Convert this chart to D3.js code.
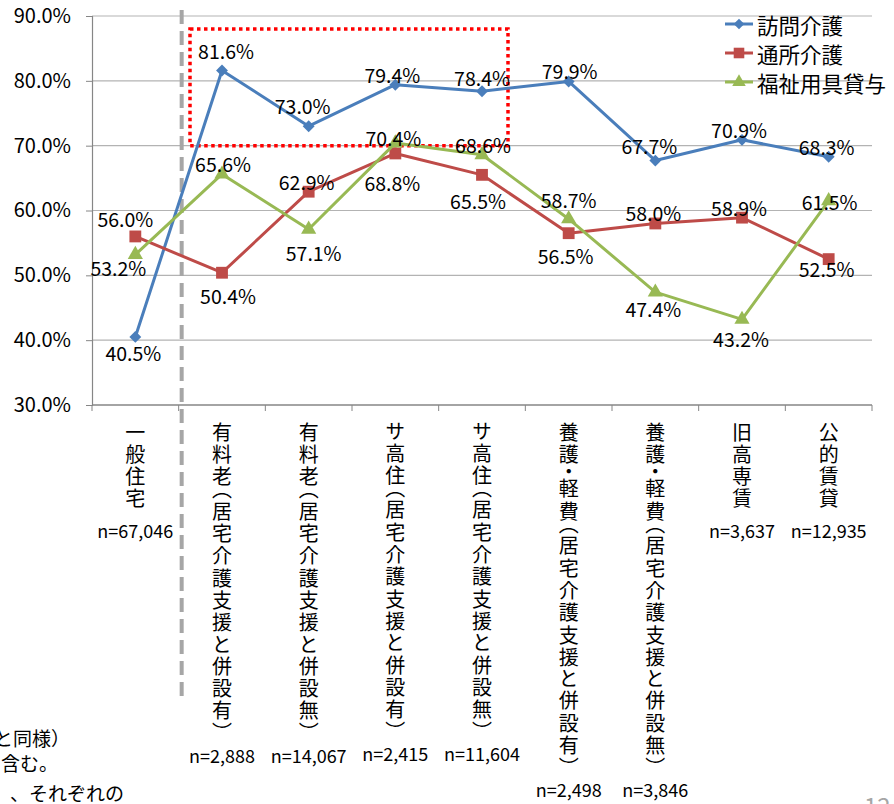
<!DOCTYPE html>
<html>
<head>
<meta charset="utf-8">
<script src="https://cdn.jsdelivr.net/npm/d3@7"></script>
<style>
  body { margin: 0; background: #fff; }
  svg { display: block; font-family: "Noto Sans CJK JP", "Noto Sans", sans-serif; }
  .vlabel { writing-mode: vertical-rl; font-feature-settings: "vpal"; }
</style>
</head>
<body>
<div id="chart"></div>
<script>
//data
const categories = [
  "一般住宅",
  "有料老（居宅介護支援と併設有）",
  "有料老（居宅介護支援と併設無）",
  "サ高住（居宅介護支援と併設有）",
  "サ高住（居宅介護支援と併設無）",
  "養護・軽費（居宅介護支援と併設有）",
  "養護・軽費（居宅介護支援と併設無）",
  "旧高専賃",
  "公的賃貸",
];
const counts = ["n=67,046", "n=2,888", "n=14,067", "n=2,415", "n=11,604", "n=2,498", "n=3,846", "n=3,637", "n=12,935"];
const seriesNames = ["訪問介護", "通所介護", "福祉用具貸与"];
const homeVisit = [40.5, 81.6, 73.0, 79.4, 78.4, 79.9, 67.7, 70.9, 68.3];
const dayService = [56.0, 50.4, 62.9, 68.8, 65.5, 56.5, 58.0, 58.9, 52.5];
const equipment = [53.2, 65.6, 57.1, 70.4, 68.6, 58.7, 47.4, 43.2, 61.5];
const yTicks = [30, 40, 50, 60, 70, 80, 90];
const notes = ["と同様）", "含む。", "、それぞれの"];

//label nudges [dx, dy] for each point
const labelShift = [
  [[-2, 16], [4, -20], [-6, -21], [-3, -10], [0, -14], [1, -11], [-6, -15], [-3, -10], [-2, -10]],
  [[-10, -18], [6, 23], [-2, -10], [-3, 29], [-4, 26], [-3, 22], [-2, -11], [-3, -10], [-2, 9]],
  [[-17, 13], [1, -11], [5, 23], [-2, -6], [1, -10], [0, -19], [-2, 16], [-1, 19], [1, 1]],
];

const main = () => {
  const W = 894, H = 804;
  const margin = { top: 16, right: 22, bottom: 399, left: 92 };
  const svg = d3.select("#chart").append("svg").attr("width", W).attr("height", H);

  const x = d3.scaleBand().domain(categories).range([margin.left, W - margin.right]).padding(0);
  const y = d3.scaleLinear().domain([30, 90]).range([H - margin.bottom, margin.top]);
  const cx = (i) => x(categories[i]) + x.bandwidth() / 2;
  const fmt = (v) => v.toFixed(1) + "%";

  //gridlines
  svg.append("g")
    .selectAll("line")
    .data(yTicks.slice(1))
    .join("line")
    .attr("x1", margin.left)
    .attr("x2", W - margin.right)
    .attr("y1", (d) => y(d))
    .attr("y2", (d) => y(d))
    .attr("stroke", "#b3b3b3")
    .attr("stroke-width", 1.2);

  //y axis
  const gy = svg.append("g")
    .attr("transform", `translate(${margin.left},0)`)
    .call(d3.axisLeft(y).tickValues(yTicks).tickSize(6).tickFormat(fmt));
  gy.select(".domain").attr("stroke", "#868686").attr("stroke-width", 1.2);
  gy.selectAll(".tick line").attr("stroke", "#868686");
  gy.selectAll("text")
    .attr("x", -21)
    .attr("font-size", 20)
    .attr("fill", "#000")
    .attr("font-family", "'Noto Sans CJK JP'");

  //x axis
  const gx = svg.append("g").attr("transform", `translate(0,${y(30)})`);
  gx.append("line")
    .attr("x1", margin.left)
    .attr("x2", W - margin.right)
    .attr("stroke", "#868686")
    .attr("stroke-width", 1.5);
  gx.selectAll(".xt")
    .data(d3.range(categories.length + 1))
    .join("line")
    .attr("class", "xt")
    .attr("x1", (i) => margin.left + i * x.bandwidth())
    .attr("x2", (i) => margin.left + i * x.bandwidth())
    .attr("y1", 0)
    .attr("y2", 6)
    .attr("stroke", "#868686");

  //vertical category labels, n= under each
  const cat = svg.append("g");
  categories.forEach((name, i) => {
    const t = cat.append("text")
      .attr("class", "vlabel")
      .attr("x", cx(i))
      .attr("y", 422)
      .attr("font-size", 20)
      .attr("letter-spacing", 2.3)
      .text(name);
    const len = t.node().getComputedTextLength();
    cat.append("text")
      .attr("x", cx(i))
      .attr("y", 422 + len + 19)
      .attr("text-anchor", "middle")
      .attr("dominant-baseline", "central")
      .attr("font-size", 18)
      .text(counts[i]);
  });

  //dashed separator between 一般住宅 and the rest
  svg.append("line")
    .attr("x1", x(categories[1]) + 3)
    .attr("x2", x(categories[1]) + 3)
    .attr("y1", 10)
    .attr("y2", 700)
    .attr("stroke", "#a6a6a6")
    .attr("stroke-width", 4)
    .attr("stroke-dasharray", "14,7");

  //red dotted highlight box
  svg.append("rect")
    .attr("x", cx(1) - 32)
    .attr("y", y(88))
    .attr("width", cx(4) + 26 - (cx(1) - 32))
    .attr("height", y(70) - y(88))
    .attr("fill", "none")
    .attr("stroke", "#ff0000")
    .attr("stroke-width", 3.5)
    .attr("stroke-dasharray", "3.5,3.5");

  //series
  const series = [
    { name: seriesNames[0], values: homeVisit, color: "#4a7ebb", marker: d3.symbolDiamond2, size: 90 },
    { name: seriesNames[1], values: dayService, color: "#be4b48", marker: d3.symbolSquare, size: 140 },
    { name: seriesNames[2], values: equipment, color: "#98b954", marker: d3.symbolTriangle, size: 100 },
  ];
  const line = d3.line().x((d, i) => cx(i)).y((d) => y(d));

  series.forEach((s) => {
    svg.append("path")
      .datum(s.values)
      .attr("d", line)
      .attr("fill", "none")
      .attr("stroke", s.color)
      .attr("stroke-width", 3)
      .attr("stroke-linejoin", "round");
    svg.append("g")
      .selectAll("path")
      .data(s.values)
      .join("path")
      .attr("transform", (d, i) => `translate(${cx(i)},${y(d)})`)
      .attr("d", d3.symbol().type(s.marker).size(s.size))
      .attr("fill", s.color);
  });

  //data labels
  series.forEach((s, k) => {
    svg.append("g")
      .selectAll("text")
      .data(s.values)
      .join("text")
      .attr("x", (d, i) => cx(i) + labelShift[k][i][0])
      .attr("y", (d, i) => y(d) + labelShift[k][i][1])
      .attr("text-anchor", "middle")
      .attr("dominant-baseline", "central")
      .attr("font-size", 19.5)
      .text(fmt);
  });

  //legend
  const legend = svg.append("g").attr("transform", "translate(725,24)");
  series.forEach((s, k) => {
    const g = legend.append("g").attr("transform", `translate(0,${k * 29})`);
    g.append("line").attr("x1", 0).attr("x2", 28).attr("stroke", s.color).attr("stroke-width", 3);
    g.append("path")
      .attr("transform", "translate(14,0)")
      .attr("d", d3.symbol().type(s.marker).size(s.size * 0.8))
      .attr("fill", s.color);
    g.append("text")
      .attr("x", 32)
      .attr("dominant-baseline", "central")
      .attr("font-size", 21.5)
      .text(s.name);
  });

  //cropped footnote fragments
  svg.append("g")
    .selectAll("text")
    .data(notes)
    .join("text")
    .attr("x", (d, i) => [70, 58, 124][i])
    .attr("y", (d, i) => [737, 762, 792][i])
    .attr("text-anchor", "end")
    .attr("dominant-baseline", "central")
    .attr("font-size", 19)
    .text((d) => d);

  //page number (cut off)
  svg.append("text")
    .attr("x", 864)
    .attr("y", 815)
    .attr("font-size", 24)
    .attr("fill", "#a6a6a6")
    .text("12");
};

main();
</script>
</body>
</html>
